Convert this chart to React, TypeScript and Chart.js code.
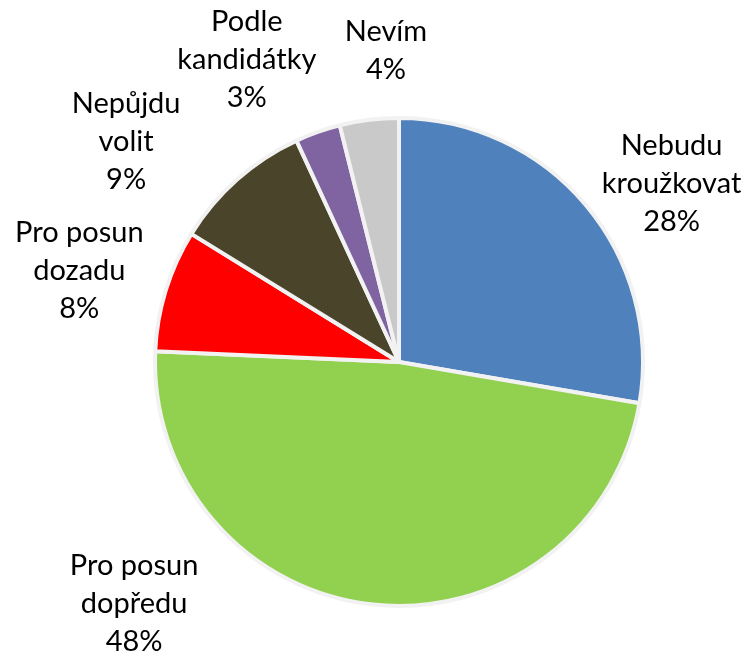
import React, { useEffect, useRef } from "react";
import { Chart, registerables } from "chart.js";

Chart.register(...registerables);

const categories: string[][] = [
  ["Nebudu", "kroužkovat"],
  ["Pro posun", "dopředu"],
  ["Pro posun", "dozadu"],
  ["Nepůjdu", "volit"],
  ["Podle", "kandidátky"],
  ["Nevím"],
];
// slice sizes (share of the circle, %)
const values: number[] = [27.7, 48.0, 8.1, 9.3, 3.0, 3.9];

const colors = ["#4F81BD", "#92D050", "#FF0000", "#4A452A", "#8064A2", "#C9C9C9"];

// label placement: angle (deg clockwise from top) and distance as a factor of the radius
const labelAngles = [56.8, 227.6, 286, 308.9, 333.3, 357.6];
const labelDistances = [1.335, 1.47, 1.363, 1.437, 1.388, 1.278];

const FONT = "29px Lato, 'Open Sans', sans-serif";
const LINE_H = 38;

const labelPlugin = {
  id: "pieLabels",
  afterDraw(chart: any) {
    const meta = chart.getDatasetMeta(0);
    const ctx = chart.ctx;
    const total = values.reduce((s, v) => s + v, 0);
    ctx.save();
    ctx.font = FONT;
    ctx.fillStyle = "#000";
    ctx.textAlign = "center";
    ctx.textBaseline = "middle";
    meta.data.forEach((arc: any, i: number) => {
      const { x, y, outerRadius } = arc.getProps(["x", "y", "outerRadius"], true);
      const a = (labelAngles[i] * Math.PI) / 180;
      const d = outerRadius * labelDistances[i];
      const cx = x + Math.sin(a) * d;
      const cy = y - Math.cos(a) * d;
      const pct = Math.round((values[i] / total) * 100) + "%";
      const lines = [...categories[i], pct];
      const top = cy - ((lines.length - 1) * LINE_H) / 2;
      lines.forEach((t, k) => ctx.fillText(t, cx, top + k * LINE_H));
    });
    ctx.restore();
  },
};

export default function App() {
  const ref = useRef<HTMLCanvasElement>(null);
  useEffect(() => {
    document.body.style.margin = "0";
    const chart = new Chart(ref.current!, {
      type: "pie",
      data: {
        labels: categories.map((c) => c.join(" ")),
        datasets: [
          {
            data: values,
            backgroundColor: colors,
            borderColor: "#F2F2F2",
            borderWidth: 4,
          },
        ],
      },
      options: {
        responsive: false,
        animation: false,
        layout: { padding: { top: 116, bottom: 49, left: 153, right: 101 } },
        plugins: { legend: { display: false }, tooltip: { enabled: false } },
      },
      plugins: [labelPlugin],
    });
    return () => chart.destroy();
  }, []);
  return <canvas ref={ref} width={746} height={657} style={{ display: "block" }} />;
}
